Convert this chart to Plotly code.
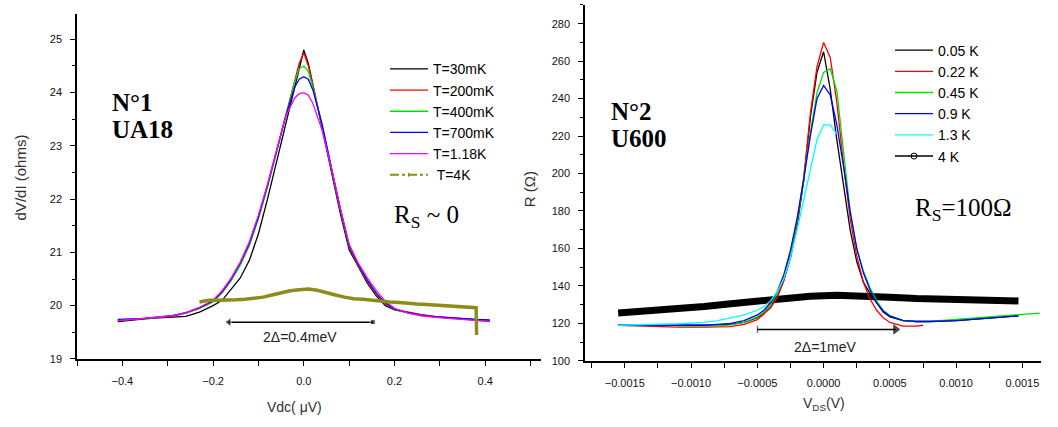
import plotly.graph_objects as go

W, H = 1058, 427

# ---------------- Left panel data (N°1 UA18) ----------------
xL = [-0.41, -0.38, -0.35, -0.32, -0.29, -0.26, -0.23, -0.20, -0.18, -0.16, -0.14, -0.12,
      -0.10, -0.08, -0.06, -0.04, -0.02, -0.01, 0.0, 0.01, 0.02, 0.04, 0.06, 0.08, 0.10,
      0.12, 0.14, 0.16, 0.18, 0.20, 0.23, 0.26, 0.29, 0.32, 0.35, 0.38, 0.41]
y_30mK = [19.70, 19.73, 19.75, 19.77, 19.79, 19.80, 19.88, 20.00, 20.10, 20.30, 20.52, 20.85,
          21.35, 22.00, 22.70, 23.40, 24.10, 24.50, 24.80, 24.55, 24.15, 23.35, 22.55, 21.75, 21.05,
          20.72, 20.42, 20.18, 20.00, 19.92, 19.87, 19.82, 19.79, 19.77, 19.75, 19.73, 19.71]
y_200mK = [19.72, 19.74, 19.75, 19.78, 19.80, 19.86, 19.95, 20.08, 20.25, 20.48, 20.78, 21.15,
           21.65, 22.25, 22.90, 23.55, 24.25, 24.55, 24.75, 24.50, 24.15, 23.40, 22.60, 21.80, 21.10,
           20.75, 20.45, 20.20, 20.02, 19.93, 19.88, 19.83, 19.80, 19.78, 19.76, 19.74, 19.72]
y_400mK = [19.73, 19.74, 19.76, 19.78, 19.81, 19.86, 19.95, 20.07, 20.24, 20.47, 20.76, 21.13,
           21.63, 22.22, 22.88, 23.55, 24.20, 24.45, 24.50, 24.40, 24.10, 23.40, 22.62, 21.83, 21.12,
           20.77, 20.47, 20.22, 20.04, 19.93, 19.86, 19.81, 19.79, 19.76, 19.75, 19.73, 19.72]
y_700mK = [19.74, 19.75, 19.76, 19.79, 19.81, 19.87, 19.96, 20.09, 20.26, 20.50, 20.80, 21.17,
           21.67, 22.26, 22.90, 23.55, 24.10, 24.25, 24.30, 24.25, 24.05, 23.42, 22.63, 21.84, 21.13,
           20.78, 20.48, 20.23, 20.05, 19.94, 19.87, 19.82, 19.79, 19.77, 19.75, 19.74, 19.73]
y_118K = [19.72, 19.74, 19.76, 19.78, 19.81, 19.87, 19.97, 20.10, 20.28, 20.52, 20.82, 21.20,
          21.70, 22.28, 22.92, 23.55, 23.90, 23.98, 24.00, 23.95, 23.80, 23.30, 22.62, 21.85, 21.15,
          20.80, 20.52, 20.28, 20.08, 19.95, 19.86, 19.81, 19.78, 19.76, 19.74, 19.72, 19.70]
x_4K = [-0.23, -0.21, -0.19, -0.17, -0.15, -0.13, -0.11, -0.09, -0.07, -0.05, -0.03, -0.01,
        0.01, 0.03, 0.05, 0.07, 0.09, 0.11, 0.13, 0.15, 0.17, 0.19, 0.21, 0.23, 0.25, 0.27,
        0.29, 0.31, 0.33, 0.35, 0.37, 0.38, 0.381]
y_4K = [20.07, 20.10, 20.10, 20.10, 20.11, 20.12, 20.14, 20.16, 20.20, 20.24, 20.28, 20.30,
        20.31, 20.29, 20.24, 20.20, 20.16, 20.13, 20.12, 20.10, 20.09, 20.07, 20.06, 20.04, 20.03,
        20.02, 20.01, 20.00, 19.99, 19.98, 19.97, 19.96, 19.45]
left_names = ["T=30mK", "T=200mK", "T=400mK", "T=700mK", "T=1.18K"]
left_series = [y_30mK, y_200mK, y_400mK, y_700mK, y_118K]
left_colors = ["#000000", "#ff0000", "#00e000", "#0000ff", "#ff00ff"]
gapL_x = [-0.165, 0.152]
gapL_y = [19.69, 19.69]

# ---------------- Right panel data (N°2 U600) ----------------
xR = [-0.00155, -0.0013, -0.0011, -0.0009, -0.0008, -0.0007, -0.0006, -0.0005, -0.00045,
      -0.0004, -0.00035, -0.0003, -0.00025, -0.0002, -0.00015, -0.0001, -0.00005, 0.0,
      0.00005, 0.0001, 0.00015, 0.0002, 0.00025, 0.0003, 0.00035, 0.0004, 0.00045, 0.0005,
      0.0006, 0.0007, 0.0008, 0.001, 0.0012, 0.00147]
r_005 = [119, 119, 119, 119, 119.2, 119.5, 120.5, 123, 125.5, 128.5, 134, 143, 155, 172, 196,
         230, 254, 265, 245, 218, 194, 170, 153, 142, 136, 131, 126, 123.5, 121.5, 121, 121,
         121.5, 122.5, 124]
xR_red = [-0.00155, -0.0013, -0.0011, -0.0009, -0.0008, -0.0007, -0.0006, -0.0005, -0.00045,
          -0.0004, -0.00035, -0.0003, -0.00025, -0.0002, -0.00015, -0.0001, -0.00005, 0.0,
          0.00005, 0.0001, 0.00015, 0.0002, 0.00025, 0.0003, 0.00035, 0.0004, 0.00045, 0.0005,
          0.0006, 0.0007, 0.00075]
r_022 = [119, 118.5, 118, 118, 118, 118.3, 119.5, 122, 125, 128.5, 134, 143, 156, 173, 198,
         232, 257, 270, 262, 238, 205, 176, 156, 142, 133, 127, 123, 120.5, 118.5, 118.5, 119]
xR_green = [-0.0011, -0.0009, -0.0008, -0.0007, -0.0006, -0.0005, -0.00045, -0.0004, -0.00035,
            -0.0003, -0.00025, -0.0002, -0.00015, -0.0001, -0.00005, 0.0, 0.00005, 0.0001,
            0.00015, 0.0002, 0.00025, 0.0003, 0.00035, 0.0004, 0.00045, 0.0005, 0.0006, 0.0007,
            0.0008, 0.001, 0.0012, 0.00147, 0.00163]
r_045 = [118.5, 118.5, 118.7, 119.2, 120.5, 123.5, 126, 130, 136, 145, 158, 175, 197, 222, 243,
         254, 256, 244, 212, 180, 160, 148, 139, 132, 127, 124, 121.5, 121, 121, 122, 123, 124.5,
         125.5]
r_09 = [119, 119, 119, 119, 119.5, 120, 121.5, 124.5, 127, 131, 137, 146, 159, 176, 197, 220,
        240, 247, 242, 226, 204, 180, 160, 147, 138, 131, 126.5, 124, 121.5, 121, 121, 121.5,
        122.5, 124]
xR_cyan = [-0.00155, -0.0013, -0.0011, -0.0009, -0.0008, -0.0007, -0.0006, -0.0005, -0.00045,
           -0.0004, -0.00035, -0.0003, -0.00025, -0.0002, -0.00015, -0.0001, -0.00005, 0.0,
           0.00005, 0.0001]
r_13 = [119, 119.3, 119.8, 120.5, 121.5, 123, 124.5, 127, 129, 132, 137, 144, 155, 170, 186,
        203, 218, 226, 226, 221]
xR_4K = [-0.00155, -0.0013, -0.0011, -0.0009, -0.0007, -0.0005, -0.0003, -0.0001, 0.0001,
         0.0003, 0.0005, 0.0007, 0.0009, 0.0011, 0.0013, 0.00147]
r_4K = [125.5, 126.5, 127.5, 129, 130.5, 132, 133.5, 134.5, 135, 134.8, 134, 133.3, 132.8,
        132.4, 132.2, 132]
gapR_x = [-0.0005, 0.000544]
gapR_y = [116.8, 116.8]

fig = go.Figure()

# Left traces
for name, ys, col in zip(left_names, left_series, left_colors):
    fig.add_trace(go.Scatter(x=xL, y=ys, mode="lines", name=name,
                             line=dict(color=col, width=1.3),
                             xaxis="x", yaxis="y", legend="legend"))
fig.add_trace(go.Scatter(x=x_4K, y=y_4K, mode="lines", showlegend=False,
                         line=dict(color="#8c8c1a", width=3.5), xaxis="x", yaxis="y"))
fig.add_trace(go.Scatter(x=[None], y=[None], mode="lines+markers", name=" T=4K",
                         line=dict(color="#8c8c1a", width=2, dash="dashdot"),
                         marker=dict(symbol="triangle-right", size=4, color="#8c8c1a"),
                         xaxis="x", yaxis="y", legend="legend"))
# 2Δ gap arrow (left): arrow head on the left end, square on the right end
fig.add_trace(go.Scatter(x=gapL_x, y=gapL_y, mode="lines+markers", showlegend=False,
                         line=dict(color="black", width=1.5),
                         marker=dict(symbol=["triangle-left", "square"], size=[8, 5],
                                     color="black"),
                         xaxis="x", yaxis="y"))

# Right traces
fig.add_trace(go.Scatter(x=xR_4K, y=r_4K, mode="lines", showlegend=False,
                         line=dict(color="black", width=7), xaxis="x2", yaxis="y2"))
right_defs = [
    ("0.05 K", xR, r_005, "#000000"),
    ("0.22 K", xR_red, r_022, "#ff0000"),
    ("0.45 K", xR_green, r_045, "#00e000"),
    ("0.9 K", xR, r_09, "#0000ff"),
    ("1.3 K", xR_cyan, r_13, "#00ffff"),
]
for name, xs, ys, col in right_defs:
    fig.add_trace(go.Scatter(x=xs, y=ys, mode="lines", name=name,
                             line=dict(color=col, width=1.3),
                             xaxis="x2", yaxis="y2", legend="legend2"))
fig.add_trace(go.Scatter(x=[None], y=[None], mode="lines+markers", name="4 K",
                         line=dict(color="black", width=1.5),
                         marker=dict(symbol="circle-open", size=6, color="black"),
                         xaxis="x2", yaxis="y2", legend="legend2"))
# 2Δ gap arrow (right): arrow head on the right end
fig.add_trace(go.Scatter(x=gapR_x, y=gapR_y, mode="lines+markers", showlegend=False,
                         line=dict(color="black", width=1.5),
                         marker=dict(symbol=["line-ns", "triangle-right"], size=[5, 8],
                                     color="black", line=dict(width=1, color="black")),
                         xaxis="x2", yaxis="y2"))

tickfont = dict(family="Liberation Sans", size=11, color="#111")
axis_common = dict(showline=True, linecolor="black", linewidth=1.5, showgrid=False,
                   zeroline=False, ticks="outside", ticklen=5, tickwidth=1.2,
                   tickcolor="black", tickfont=tickfont)

fig.update_layout(
    width=W, height=H, autosize=False,
    margin=dict(l=0, r=0, t=0, b=0),
    paper_bgcolor="white", plot_bgcolor="white",
    xaxis=dict(domain=[77 / W, 541 / W], range=[-0.5, 0.523], tick0=0, dtick=0.2,
               tickformat=".1f", anchor="y", ticklabelstandoff=6,
               minor=dict(dtick=0.1, ticklen=5, ticks="outside", tickcolor="black"),
               **axis_common),
    yaxis=dict(domain=[(H - 364) / H, (H - 14) / H], range=[19, 25.48], dtick=1,
               anchor="x", ticklabelstandoff=6,
               minor=dict(dtick=0.5, ticklen=3, ticks="outside", tickcolor="black"),
               **axis_common),
    xaxis2=dict(domain=[585 / W, 1041 / W], range=[-0.0018, 0.00164], tick0=0, dtick=0.0005,
                tickformat=".4f", anchor="y2", ticklabelstandoff=6,
                minor=dict(dtick=0.00025, ticklen=5, ticks="outside", tickcolor="black"),
                **axis_common),
    yaxis2=dict(domain=[(H - 366) / H, (H - 5) / H], range=[100, 290], dtick=20,
                anchor="x2", ticklabelstandoff=6,
                minor=dict(dtick=10, ticklen=3, ticks="outside", tickcolor="black"),
                **axis_common),
    legend=dict(x=385 / W, y=1 - 54 / H, xanchor="left", yanchor="top",
                bgcolor="rgba(0,0,0,0)", font=dict(family="Liberation Sans", size=14, color="black"),
                itemwidth=38, tracegroupgap=0),
    legend2=dict(x=890 / W, y=1 - 35 / H, xanchor="left", yanchor="top",
                 bgcolor="rgba(0,0,0,0)", font=dict(family="Liberation Sans", size=14, color="black"),
                 itemwidth=38, tracegroupgap=0),
)

serif = "Liberation Serif"
ann = []
def txt(x, y, s, size, family="Liberation Sans", color="black", angle=0, xanchor="center"):
    ann.append(dict(x=x / W, y=1 - y / H, xref="paper", yref="paper", text=s, showarrow=False,
                    font=dict(family=family, size=size, color=color), textangle=angle,
                    xanchor=xanchor, yanchor="middle"))

txt(110, 104, "<b>N°1</b>", 25, serif, xanchor="left")
txt(110, 131, "<b>UA18</b>", 25, serif, xanchor="left")
txt(392, 220, "R<sub>S</sub> ~ 0", 25, serif, xanchor="left")
txt(609, 113, "<b>N°2</b>", 25, serif, xanchor="left")
txt(609, 140, "<b>U600</b>", 25, serif, xanchor="left")
txt(913, 212, "R<sub>S</sub>=100Ω", 25, serif, xanchor="left")
txt(20, 180, "dV/dI (ohms)", 15, color="#333", angle=-90)
txt(529, 192, "R (Ω)", 15, color="#333", angle=-90)
txt(294, 413, "Vdc( μV)", 14, color="#333")
txt(824, 410, "V<sub>DS</sub>(V)", 14, color="#333")
txt(300, 342, "2Δ=0.4meV", 14, color="#222")
txt(825, 352, "2Δ=1meV", 14, color="#222")
fig.update_layout(annotations=ann)

post = ("document.documentElement.style.margin='0';document.body.style.margin='0';"
        "document.documentElement.style.overflow='hidden';document.body.style.overflow='hidden';")
fig.write_html("out.html", config={"displayModeBar": False, "responsive": False},
               post_script=post)
